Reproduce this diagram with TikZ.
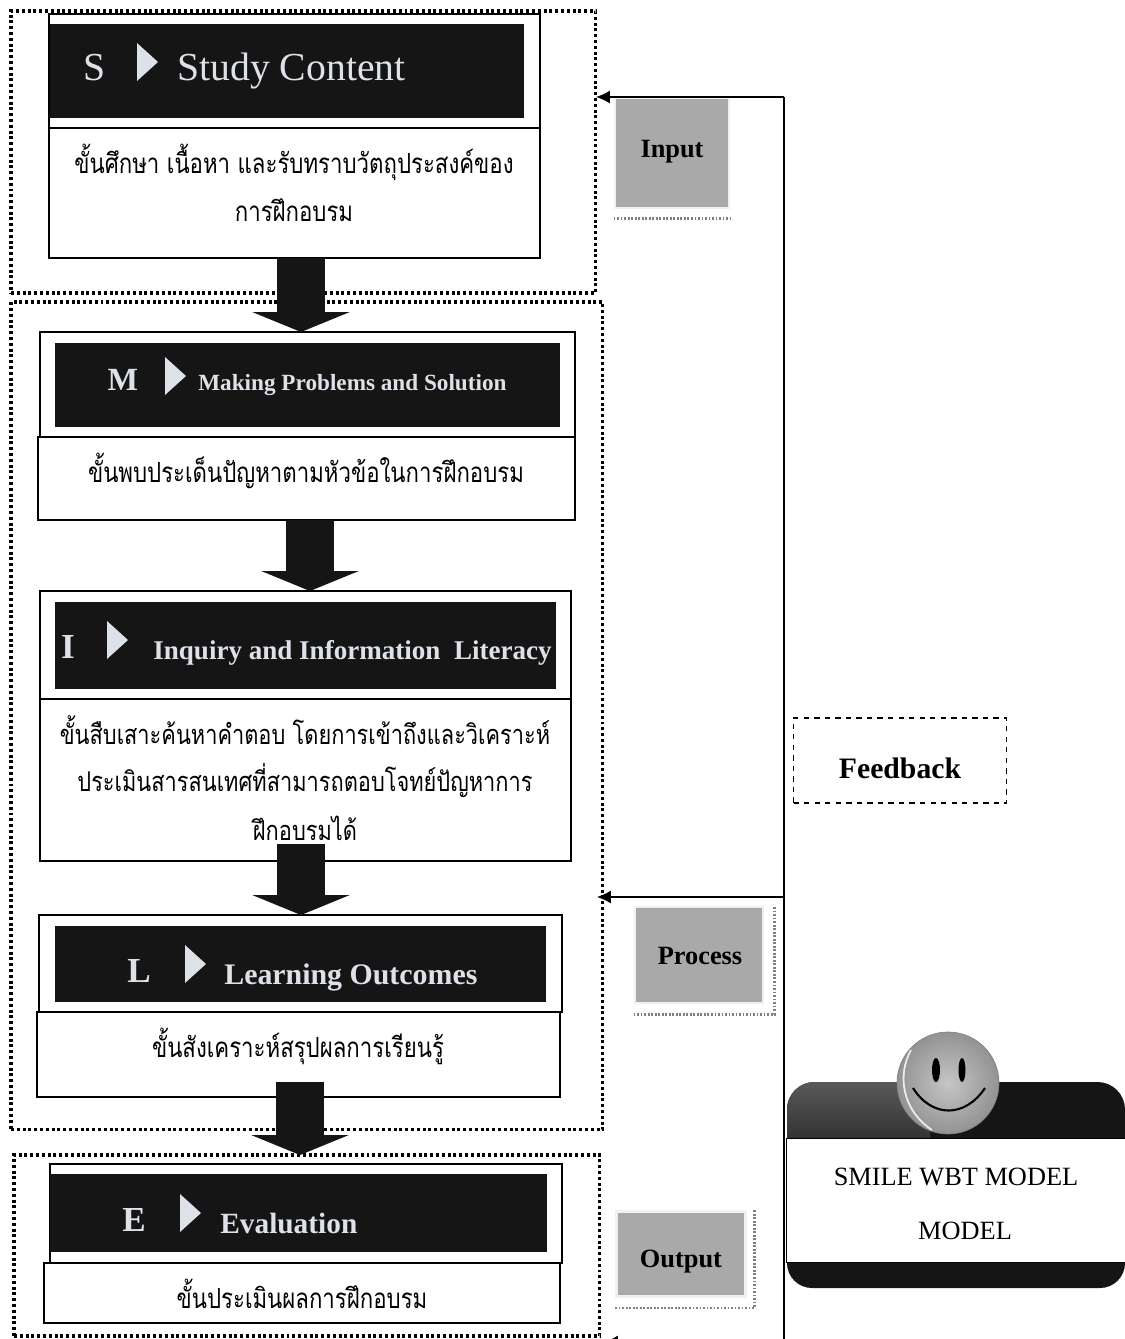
\documentclass[tikz,border=0pt]{standalone}
\usepackage{fontspec}
\setmainfont{Liberation Serif}
\newfontfamily\thaifont[Script=Thai,FakeStretch=0.8]{Loma}
\usetikzlibrary{arrows.meta,positioning}
\definecolor{bandblack}{HTML}{151515}
\definecolor{bandtext}{HTML}{DDE1E8}
\definecolor{tagfill}{HTML}{A9A9A9}
\definecolor{taghalo}{HTML}{EEF0F5}

\begin{document}
\begin{tikzpicture}[
                x=0.02cm, y=-0.02cm,
                frame/.style={draw, line width=1.8pt, dash pattern=on 1.7pt off 1.6pt, anchor=north west, inner sep=0pt, outer sep=0pt},
                block/.style={draw, line width=0.8pt, anchor=north west, inner sep=0pt, outer sep=0pt, fill=white},
                body/.style={draw, line width=0.8pt, inner sep=0pt, outer sep=0pt, fill=white},
                band/.style={fill=bandblack, anchor=north west, inner sep=0pt},
                letter/.style={text=bandtext, inner sep=0pt},
                title/.style={text=bandtext, anchor=west, inner sep=0pt},
                caption/.style={inner sep=0pt, font=\thaifont\fontsize{15.8}{17}\selectfont},
                tag/.style={fill=tagfill, draw=taghalo, line width=1.5pt, inner sep=0pt},
                ruffle/.style={draw=gray, line width=1.5pt, dash pattern=on 1pt off 1pt},
                flow/.style={line width=0.98cm, draw=bandblack, -{Triangle[width=1.94cm,length=0.4cm]}},
                arrow/.style={line width=0.9pt, -{Latex[length=0.28cm,width=0.26cm]}}
            ]

            \useasboundingbox (0,0) rectangle (1125,1339);

            % dotted groups
            \node[frame, minimum width=11.7cm, minimum height=5.64cm] (inputframe) at (11,11) {};
            \node[frame, minimum width=11.84cm, minimum height=16.56cm] (processframe) at (11,302) {};
            \node[frame, minimum width=11.72cm, minimum height=3.62cm] (outputframe) at (14,1155) {};

            % S
            \node[block, minimum width=9.82cm, minimum height=2.28cm] (souter) at (49,14) {};
            \node[body, below=0pt of souter, minimum width=9.82cm, minimum height=2.6cm] (sbody) {};
            \node[band, minimum width=9.48cm, minimum height=1.88cm] (sband) at (50,24) {};
            \node[letter, font=\fontsize{22.6}{24}\selectfont] (sletter) at (95,68) {S};
            \node[title, font=\fontsize{22.6}{24}\selectfont] (stitle) at (177,71) {Study Content};
            \node[caption, align=center] (scaption) at (294,183) {ขั้นศึกษา เนื้อหา และรับทราบวัตถุประสงค์ของ\\[0.33cm]การฝึกอบรม};

            % M
            \node[block, minimum width=10.7cm, minimum height=2.1cm] (mouter) at (40,332) {};
            \node[body, below=0pt of mouter, xshift=-0.02cm, minimum width=10.74cm, minimum height=1.66cm] (mbody) {};
            \node[band, minimum width=10.1cm, minimum height=1.68cm] (mband) at (55,343) {};
            \node[letter, font=\bfseries\fontsize{18.4}{20}\selectfont] (mletter) at (123,380) {M};
            \node[title, font=\bfseries\fontsize{13.2}{15}\selectfont] (mtitle) at (198,385) {Making Problems and Solution};
            \node[caption] (mcaption) at (306,471) {ขั้นพบประเด็นปัญหาตามหัวข้อในการฝึกอบรม};

            % I
            \node[block, minimum width=10.62cm, minimum height=2.16cm] (iouter) at (40,591) {};
            \node[body, below=0pt of iouter, minimum width=10.62cm, minimum height=3.24cm] (ibody) {};
            \node[band, minimum width=10.02cm, minimum height=1.74cm] (iband) at (55,602) {};
            \node[letter, font=\bfseries\fontsize{20}{22}\selectfont] (iletter) at (68,647) {I};
            \node[title, font=\bfseries\fontsize{15.4}{17}\selectfont] (ititle) at (153,653) {Inquiry and Information\ \ Literacy};
            \node[caption, font=\thaifont\fontsize{15.5}{17}\selectfont, align=center] (icaption) at (305,778) {ขั้นสืบเสาะค้นหาคำตอบ โดยการเข้าถึงและวิเคราะห์\\[0.33cm]ประเมินสารสนเทศที่สามารถตอบโจทย์ปัญหาการ\\[0.33cm]ฝึกอบรมได้};

            % L
            \node[block, minimum width=10.46cm, minimum height=1.94cm] (louter) at (39,915) {};
            \node[body, below=0pt of louter, xshift=-0.04cm, minimum width=10.46cm, minimum height=1.7cm] (lbody) {};
            \node[band, minimum width=9.82cm, minimum height=1.52cm] (lband) at (55,926) {};
            \node[letter, font=\bfseries\fontsize{20}{22}\selectfont] (lletter) at (139,971) {L};
            \node[title, font=\bfseries\fontsize{17}{19}\selectfont] (ltitle) at (224,977) {Learning Outcomes};
            \node[caption] (lcaption) at (298,1046) {ขั้นสังเคราะห์สรุปผลการเรียนรู้};

            % E
            \node[block, minimum width=10.24cm, minimum height=1.98cm] (eouter) at (50,1164) {};
            \node[body, below=0pt of eouter, xshift=-0.08cm, minimum width=10.32cm, minimum height=1.2cm] (ebody) {};
            \node[band, minimum width=9.94cm, minimum height=1.56cm] (eband) at (50,1174) {};
            \node[letter, font=\bfseries\fontsize{20}{22}\selectfont] (eletter) at (134,1220) {E};
            \node[title, font=\bfseries\fontsize{16.7}{18}\selectfont] (etitle) at (220,1223) {Evaluation};
            \node[caption] (ecaption) at (302,1294) {ขั้นประเมินผลการฝึกอบรม};

            % band markers
            \foreach \tx/\ty in {137/43,165/357,107/621,185/945,180/1194}
                \fill[bandtext] (\tx,\ty) -- ++(21,19) -- ++(-21,19) -- cycle;

            % block arrows
            \coordinate (axisone) at (301,0);
            \coordinate (axistwo) at (310,0);
            \coordinate (axisthree) at (301,0);
            \coordinate (axisfour) at (300,0);
            \draw[flow] (axisone |- sbody.south) -- (axisone |- mouter.north);
            \draw[flow] (axistwo |- mbody.south) -- (axistwo |- iouter.north);
            \draw[flow] ([yshift=0.34cm]axisthree |- ibody.south) -- (axisthree |- louter.north);
            \draw[flow] ([yshift=0.3cm]axisfour |- lbody.south) -- (axisfour |- outputframe.north);

            % side tags
            \node[tag, minimum width=2.28cm, minimum height=2.2cm] (inputtag) at (672,153) {};
            \node[inner sep=0pt, font=\bfseries\fontsize{15}{17}\selectfont] (inputlabel) at (672,152) {Input};
            \node[tag, minimum width=2.56cm, minimum height=1.92cm] (processtag) at (699,955) {};
            \node[inner sep=0pt, font=\bfseries\fontsize{15}{17}\selectfont] (processlabel) at (700,956) {Process};
            \node[tag, minimum width=2.58cm, minimum height=1.7cm] (outputtag) at (681,1254) {};
            \node[inner sep=0pt, font=\bfseries\fontsize{15}{17}\selectfont] (outputlabel) at (681,1262) {Output};
            \draw[ruffle] ([yshift=-0.18cm]inputtag.south west) -- ([yshift=-0.18cm]inputtag.south east);
            \draw[ruffle] ([yshift=-0.2cm]processtag.south west) -- ([xshift=0.2cm,yshift=-0.2cm]processtag.south east) -- ([xshift=0.2cm]processtag.north east);
            \draw[ruffle] ([yshift=-0.2cm]outputtag.south west) -- ([xshift=0.16cm,yshift=-0.2cm]outputtag.south east) -- ([xshift=0.16cm]outputtag.north east);

            % feedback
            \coordinate (fbtop) at (784,97);
            \coordinate (fbmid) at (784,897);
            \coordinate (fbend) at (784,1342);
            \draw[line width=0.9pt] (fbtop) -- (fbend);
            \draw[arrow] (fbtop) -- (inputframe.east |- fbtop);
            \draw[arrow] (fbmid) -- ([xshift=-0.12cm]processframe.east |- fbmid);
            \draw[arrow] (fbend) -- ([xshift=0.08cm]outputframe.east |- fbend);
            \node[draw, dashed, line width=0.8pt, minimum width=4.26cm, minimum height=1.7cm, font=\bfseries\fontsize{16.9}{19}\selectfont] (feedback) at (900,760.5) {\raisebox{-0.35cm}[0pt][0pt]{Feedback}};

            % model badge
            \fill[bandblack] (787,1138) [rounded corners=0.55cm] -- (787,1082) -- (1125,1082) [sharp corners] -- (1125,1138) -- cycle;
            \shade[top color=black!65, bottom color=black!80] (787,1138) [rounded corners=0.55cm] -- (787,1082) -- (930,1082) [sharp corners] -- (930,1138) -- cycle;
            \fill[bandblack] (787,1262) [rounded corners=0.5cm] -- (787,1288) -- (1125,1288) [sharp corners] -- (1125,1262) -- cycle;
            \node[draw, line width=0.8pt, fill=white, anchor=north west, inner sep=0pt, minimum width=6.78cm, minimum height=2.48cm] (modelbox) at (786,1138) {};
            \node[inner sep=0pt, font=\fontsize{15}{17}\selectfont] (modelone) at (956,1177) {SMILE WBT MODEL};
            \node[inner sep=0pt, font=\fontsize{15}{17}\selectfont] (modeltwo) at (965,1231) {MODEL};
            \node[circle, inner color=gray!45, outer color=gray!85, draw=gray, inner sep=0pt, minimum size=2.04cm] (smiley) at (948,1083) {};
            \fill[black] (936,1070) ellipse (4 and 12);
            \fill[black] (962,1070) ellipse (3.5 and 12);
            \draw[line width=1.2pt] (913,1088) .. controls (932,1118) and (965,1118) .. (985,1088);
            \draw[white!85!gray, line width=1pt] (911,1050) .. controls (897,1075) and (902,1110) .. (932,1130);

        \end{tikzpicture}
\end{document}
